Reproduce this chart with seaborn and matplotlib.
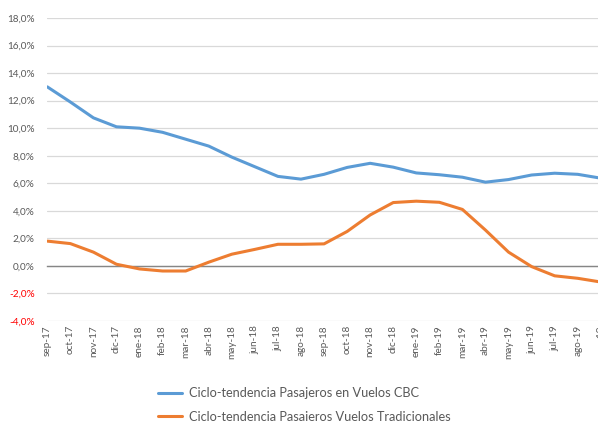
import matplotlib
matplotlib.use("Agg")
import matplotlib.pyplot as plt
import seaborn as sns
import pandas as pd
from matplotlib.lines import Line2D

months = ["sep-17", "oct-17", "nov-17", "dic-17", "ene-18", "feb-18", "mar-18", "abr-18",
          "may-18", "jun-18", "jul-18", "ago-18", "sep-18", "oct-18", "nov-18", "dic-18",
          "ene-19", "feb-19", "mar-19", "abr-19", "may-19", "jun-19", "jul-19", "ago-19", "sep-19"]
cbc = [13.0, 11.9, 10.75, 10.1, 10.0, 9.7, 9.2, 8.7, 7.9, 7.2, 6.5, 6.3, 6.65, 7.15, 7.45,
       7.17, 6.75, 6.62, 6.44, 6.08, 6.27, 6.6, 6.73, 6.65, 6.37]
trad = [1.8, 1.62, 1.0, 0.12, -0.22, -0.37, -0.37, 0.27, 0.85, 1.2, 1.57, 1.57, 1.6, 2.5,
        3.7, 4.6, 4.7, 4.62, 4.1, 2.6, 1.0, -0.05, -0.72, -0.9, -1.17]
series_names = ["Ciclo-tendencia Pasajeros en Vuelos CBC",
                "Ciclo-tendencia Pasaieros Vuelos Tradicionales"]
colors = ["#5B9BD5", "#ED7D31"]
yticks = [-4, -2, 0, 2, 4, 6, 8, 10, 12, 14, 16, 18]

df = pd.DataFrame({
    "idx": list(range(len(months))) * 2,
    "value": cbc + trad,
    "serie": [series_names[0]] * len(cbc) + [series_names[1]] * len(trad),
})

sns.set_style("white")
plt.rcParams["font.family"] = ["Lato", "DejaVu Sans"]

W, H = 598, 423
fig = plt.figure(figsize=(W / 100, H / 100), dpi=100)
x0, x1 = 47.3, 600.8
ytop, ybot = 18, 321
ax = fig.add_axes([x0 / W, 1 - ybot / H, (x1 - x0) / W, (ybot - ytop) / H])

sns.lineplot(data=df, x="idx", y="value", hue="serie", palette=colors, ax=ax,
             linewidth=2.2, legend=False, zorder=3)

ax.set_xlim(0, len(months) - 1)
ax.set_ylim(-4, 18)
ax.set_xlabel("")
ax.set_ylabel("")

# grid
ax.set_yticks(yticks)
ax.yaxis.grid(True, color="#D9D9D9", linewidth=0.9)
ax.xaxis.grid(False)
ax.set_yticklabels([f"{v:.1f}".replace(".", ",") + "%" for v in yticks])
ax.tick_params(axis="y", length=0, pad=9, labelsize=7.2, labelcolor="#595959")
for lab, v in zip(ax.get_yticklabels(), yticks):
    if v < 0:
        lab.set_color("#FF0000")

for s in ["left", "right", "top"]:
    ax.spines[s].set_visible(False)
ax.spines["bottom"].set_position(("data", 0))
ax.spines["bottom"].set_color("#868686")
ax.spines["bottom"].set_linewidth(1.0)
ax.spines["bottom"].set_zorder(2)
ax.set_xticks(range(len(months)))
ax.tick_params(axis="x", direction="out", length=3, width=0.8, color="#868686",
               labelbottom=False)

sec = ax.secondary_xaxis(0.0)
sec.set_xticks(range(len(months)), labels=months)
sec.tick_params(axis="x", length=0, pad=3, labelsize=7.2, labelcolor="#595959", rotation=90)
sec.spines["bottom"].set_visible(False)

handles = [Line2D([0], [0], color=c, linewidth=2.2) for c in colors]
fig.legend(handles, series_names, loc="upper left",
           bbox_to_anchor=(158 / W, 1 - 387 / H), frameon=False,
           fontsize=9.2, labelcolor="#595959", handlelength=1.9, handletextpad=0.55,
           labelspacing=0.9, borderpad=0, borderaxespad=0)

fig.savefig("out.png", dpi=100)
